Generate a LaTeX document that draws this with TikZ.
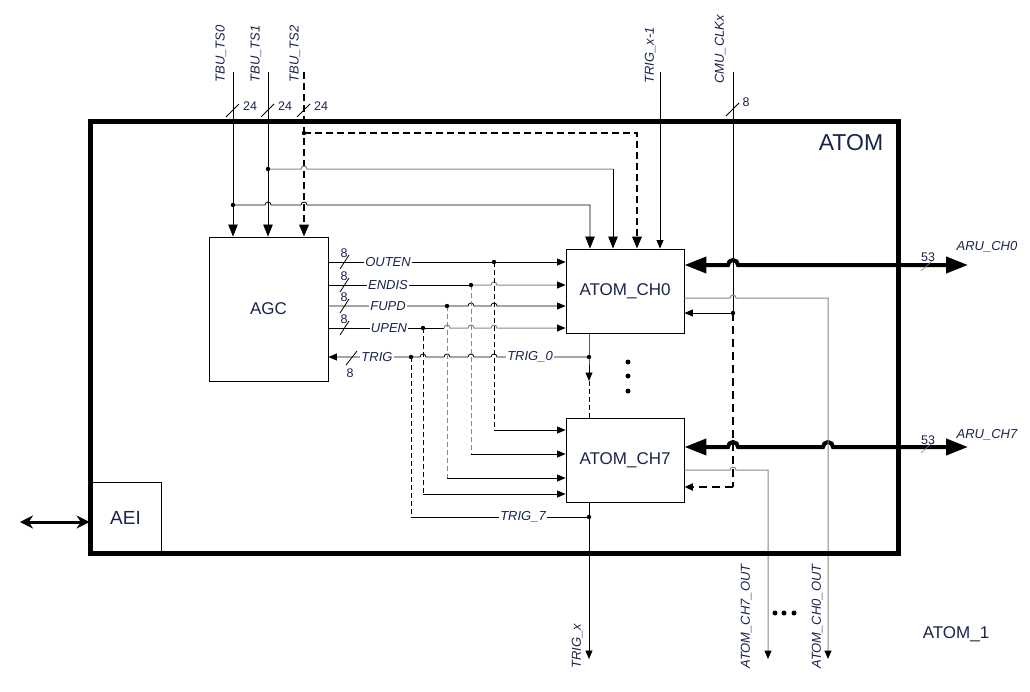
\documentclass[tikz,border=0pt]{standalone}
\usepackage{fontspec}
\setmainfont{Liberation Sans}
\usetikzlibrary{arrows.meta}

\definecolor{txt}{RGB}{25,35,75}
\definecolor{wire}{RGB}{135,135,135}

% small jumps where one wire crosses another
\newcommand{\hop}[2]{-- ({#1-3},#2) arc[start angle=180,end angle=360,radius=3]}
\newcommand{\bighop}[2]{-- ({#1-5},#2) arc[start angle=180,end angle=360,radius=5]}

\begin{document}
\begin{tikzpicture}[x=1pt,y=-1pt,line width=0.8pt,
  >={Triangle[length=8.5pt,width=7pt,color=black]},
  box/.style={draw,line width=0.9pt,inner sep=0pt,font=\fontsize{17}{19}\selectfont,text=txt},
  sig/.style={font=\fontsize{13}{15}\selectfont\itshape,text=txt,inner sep=1pt},
  sigw/.style={sig,fill=white},
  num/.style={font=\fontsize{12.5}{14}\selectfont,text=txt,inner sep=0pt},
  gw/.style={draw=wire,line width=1pt},
  tip/.style={-{Triangle[length=12pt,width=9.5pt]}},
  bus/.style={{Triangle[length=22pt,width=16pt]}-{Triangle[length=22pt,width=16pt]},line width=4pt},
  tdash/.style={dash pattern=on 5pt off 3pt},
  Tdash/.style={line width=2pt,dash pattern=on 7pt off 4pt}]

\useasboundingbox (0,0) rectangle (1030,691);

% blocks
\node[box,minimum width=71pt,minimum height=71pt,font=\fontsize{19}{21}\selectfont] (aei) at (125.5,517.5) {AEI};
\node[box,minimum width=119pt,minimum height=144pt] (agc) at (268.5,309) {AGC};
\node[box,minimum width=118pt,minimum height=84pt] (ch0) at (625,291) {ATOM\_CH0};
\node[box,minimum width=118pt,minimum height=84pt] (ch7) at (625,460) {ATOM\_CH7};

% inputs from the top
\coordinate (ts0) at (233,72);
\coordinate (ts1) at (268,72);
\coordinate (ts2) at (304,72);
\coordinate (trgin) at (660,72);
\coordinate (cmu) at (733,72);
\coordinate (j0) at (233,205);
\coordinate (j1) at (268,169);
\coordinate (j2) at (304,133);
\node[sig,rotate=90,anchor=west] at (221,84) {TBU\_TS0};
\node[sig,rotate=90,anchor=west] at (256,84) {TBU\_TS1};
\node[sig,rotate=90,anchor=west] at (295,84) {TBU\_TS2};
\node[sig,rotate=90,anchor=west] at (650,85) {TRIG\_x-1};
\node[sig,rotate=90,anchor=west] at (720,85) {CMU\_CLKx};
\foreach \x in {233,268,304} {
  \draw (\x-7,117) -- (\x+6,104);
  \node[num] at (\x+17,106) {24};
}
\draw (726,116) -- (739,103);
\node[num] at (746,102) {8};

\draw[tip] (ts0) -- (233,0 |- agc.north);
\draw[tip] (ts1) -- (268,0 |- agc.north);
\draw[tip,Tdash] (ts2) -- (304,0 |- agc.north);
\draw[tip] (j0) \hop{268}{205} \hop{304}{205} -- (590,205) -- (590,0 |- ch0.north);
\draw[gw] (j1) \hop{304}{169} -- (613,169);
\draw[tip] (613,169) -- (613,0 |- ch0.north);
\draw[tip,Tdash] (j2) -- (637,133) -- (637,0 |- ch0.north);
\draw[->] (trgin) -- (trgin |- ch0.north);

% clock
\coordinate (jc0) at (733,313);
\coordinate (jc7) at (733,487);
\draw (cmu) -- (jc0);
\draw[->] (jc0) -- (jc0 -| ch0.east);
\draw[line width=2.2pt,dash pattern=on 8pt off 5pt] (jc0) -- (jc7);
\draw[->,line width=2.2pt,dash pattern=on 8pt off 5pt] (jc7) -- (jc7 -| ch7.east);

% ARU ports
\draw[bus] (ch0.east |- 0,265) \bighop{733}{265} -- (968,265);
\draw[bus] (ch7.east |- 0,447) \bighop{733}{447} \bighop{828}{447} -- (968,447);
\draw[gw,line width=0.6pt] (921,271) -- (933,260);
\draw[gw,line width=0.6pt] (921,453) -- (933,442);
\node[num] at (928,257) {53};
\node[num] at (928,440) {53};
\node[sig] at (987,247) {ARU\_CH0};
\node[sig] at (987,435) {ARU\_CH7};

% channel outputs
\draw[gw,->] (ch0.east |- 0,298) \hop{733}{298} -- (828,298) -- (828,659);
\draw[gw,->] (ch7.east |- 0,470) \hop{733}{470} -- (768,470) -- (768,659);
\node[sig,rotate=90,anchor=west] at (746,670) {ATOM\_CH7\_OUT};
\node[sig,rotate=90,anchor=west] at (817,670) {ATOM\_CH0\_OUT};
\foreach \x in {775,784,794} \fill (\x,613) circle (2.5);

% AGC to channels
\coordinate (jo) at (494,262);
\coordinate (je) at (471,285);
\coordinate (jf) at (447,306);
\coordinate (ju) at (423,328);
\coordinate (jt) at (411,357);
\coordinate (jt0) at (589,357);
\coordinate (jt7) at (589,517);
\draw[->] (agc.east |- jo) -- (ch0.west |- jo);
\draw (agc.east |- je) -- (je);
\draw[gw,->] (je) \hop{494}{285} -- (ch0.west |- je);
\draw[->] (agc.east |- jf) -- (jf) \hop{471}{306} \hop{494}{306} -- (ch0.west |- jf);
\draw (agc.east |- ju) -- (444,328);
\draw[gw,->] (444,328) arc[start angle=180,end angle=360,radius=3] \hop{471}{328} \hop{494}{328} -- (ch0.west |- ju);
\draw[<-] (agc.east |- jt) -- (jt) \hop{423}{357} \hop{447}{357} \hop{471}{357} \hop{494}{357} -- (jt0);
\foreach \y in {262,285,306,328} {
  \draw (340,\y+7) -- (349,\y-7);
  \node[num] at (344,\y-9) {8};
}
\draw (346,365) -- (357,351);
\node[num] at (350,373) {8};
\node[sigw] at (388,262) {OUTEN};
\node[sigw] at (388,285) {ENDIS};
\node[sigw] at (388,306) {FUPD};
\node[sigw] at (389,328) {UPEN};
\node[sigw] at (377,357) {TRIG};
\node[sigw] at (530,357) {TRIG\_0};

\draw[tdash] (jo) -- (494,430);
\draw[->] (494,430) -- (ch7.west |- 0,430);
\draw[tdash,gw] (je) -- (471,454);
\draw[->] (471,454) -- (ch7.west |- 0,454);
\draw[tdash,gw] (jf) -- (447,478);
\draw[->] (447,478) -- (ch7.west |- 0,478);
\draw[tdash] (ju) -- (423,494);
\draw[->] (423,494) -- (ch7.west |- 0,494);
\draw[tdash] (jt) -- (411,517);
\draw (411,517) -- (jt7);
\node[sigw] at (523,517) {TRIG\_7};

% trigger chain
\draw[->] (589,0 |- ch0.south) -- (jt0) -- (589,381);
\draw[tdash] (589,381) -- (589,0 |- ch7.north);
\foreach \y in {362,376,391} \fill (628,\y) circle (2.5);
\draw[->] (589,0 |- ch7.south) -- (589,659);
\node[sig,rotate=90,anchor=west] at (577,670) {TRIG\_x};

\foreach \p in {j0,j1,j2,jc0,jo,je,jf,ju,jt,jt0,jt7} \fill (\p) circle (2.2);

% bus interface
\draw[line width=3pt,{Stealth[length=13pt,width=13pt]}-{Stealth[length=13pt,width=13pt]}] (20,522) -- (aei.west |- 0,522);

% module frame
\draw[line width=5pt] (90,121) rectangle (898,553);
\node[font=\fontsize{23}{26}\selectfont,text=txt] (atomlbl) at (851,143) {ATOM};
\node[font=\fontsize{17}{20}\selectfont,text=txt] (atomid) at (956,634) {ATOM\_1};
\end{tikzpicture}
\end{document}
